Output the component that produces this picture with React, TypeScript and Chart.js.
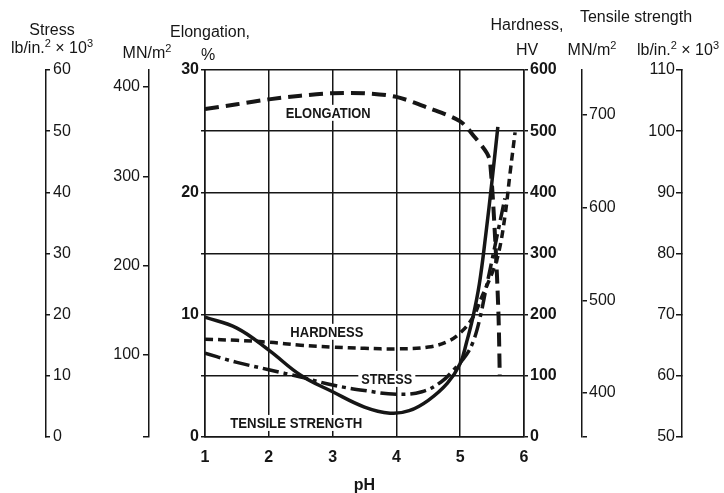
import React, { useEffect, useRef } from 'react';
import { Chart, registerables } from 'chart.js';

Chart.register(...registerables);

const FONT = '"Liberation Sans", Arial, Helvetica, sans-serif';
const INK = '#161616';

// ---- Data ----
// Elongation, %
const elongationPH = [1.0, 1.5, 2.0, 2.5, 3.0, 3.5, 4.0, 4.5, 5.0, 5.23, 5.42, 5.47, 5.55, 5.6, 5.62];
const elongationValues = [26.8, 27.2, 27.6, 27.9, 28.1, 28.1, 27.8, 26.9, 25.8, 24.5, 23.2, 22.4, 16, 10, 5];

// Hardness, HV
const hardnessPH = [1.0, 1.5, 2.0, 2.5, 3.0, 3.5, 4.0, 4.5, 4.8, 5.0, 5.2, 5.35, 5.5, 5.6, 5.7, 5.78, 5.86];
const hardnessValues = [160, 158, 155, 150, 147, 145, 144, 147, 156, 170, 196, 232, 268, 300, 360, 430, 498];

// Stress, lb/in.^2 x 10^3
const stressPH = [1.0, 1.5, 2.0, 2.5, 3.0, 3.5, 4.0, 4.4, 4.7, 4.9, 5.1, 5.2, 5.3, 5.4, 5.5, 5.6, 5.7];
const stressValues = [13.7, 12.2, 11.0, 9.8, 8.5, 7.6, 7.0, 7.4, 9.0, 11.0, 13.5, 15.5, 19, 24, 29, 34, 39];

// Tensile strength, lb/in.^2 x 10^3
const tensilePH = [1.0, 1.5, 2.0, 2.5, 3.0, 3.5, 3.9, 4.2, 4.5, 4.8, 5.0, 5.1, 5.2, 5.3, 5.4, 5.5, 5.59];
const tensileValues = [69.6, 67.8, 64.2, 60.1, 57.4, 54.9, 53.9, 54.3, 56.0, 58.8, 62.0, 65.5, 69.6, 75, 83, 92, 100.7];

// ---- Axes / ticks ----
const phTicks = [1, 2, 3, 4, 5, 6];
const elongationTicks = [0, 5, 10, 15, 20, 25, 30];
const elongationLabels = [0, 10, 20, 30];
const stressMNRange = [8, 419];
const stressMNTicks = [100, 200, 300, 400];
const stressKsiTicks = [0, 10, 20, 30, 40, 50, 60];
const hardnessTicks = [0, 100, 200, 300, 400, 500, 600];
const tensileMNRange = [352.5, 748.5];
const tensileMNTicks = [400, 500, 600, 700];
const tensileKsiTicks = [50, 60, 70, 80, 90, 100, 110];

// Curve labels (pH, HV position)
const curveLabels = [
  { text: 'ELONGATION', ph: 2.93, hv: 530, w: 85 },
  { text: 'HARDNESS', ph: 2.91, hv: 172, w: 73 },
  { text: 'STRESS', ph: 3.85, hv: 95, w: 51 },
  { text: 'TENSILE STRENGTH', ph: 2.43, hv: 23, w: 132 },
];

type Part = [string, number];
const axisTitles: { parts: Part[]; cx: number; y: number }[] = [
  { parts: [['Stress', 0]], cx: 52, y: 35 },
  { parts: [['lb/in.', 0], ['2', 1], [' \u00d7 10', 0], ['3', 1]], cx: 52, y: 53 },
  { parts: [['MN/m', 0], ['2', 1]], cx: 147, y: 58 },
  { parts: [['Elongation,', 0]], cx: 210, y: 37 },
  { parts: [['%', 0]], cx: 208, y: 60 },
  { parts: [['Hardness,', 0]], cx: 527, y: 30 },
  { parts: [['HV', 0]], cx: 527, y: 55 },
  { parts: [['Tensile strength', 0]], cx: 636, y: 22 },
  { parts: [['MN/m', 0], ['2', 1]], cx: 592, y: 55 },
  { parts: [['lb/in.', 0], ['2', 1], [' \u00d7 10', 0], ['3', 1]], cx: 678, y: 55 },
];

const toPoints = (xs: number[], ys: number[]) => xs.map((x, i) => ({ x, y: ys[i] }));
const fixedTicks = (values: number[]) => (scale: any) => {
  scale.ticks = values.map((v) => ({ value: v }));
};
const setWidth = (w: number) => (scale: any) => {
  scale.width = w;
};

const titlesPlugin = {
  id: 'titlesPlugin',
  afterDraw(chart: any) {
    const ctx = chart.ctx;
    ctx.save();
    ctx.fillStyle = INK;
    ctx.textBaseline = 'alphabetic';
    ctx.textAlign = 'left';
    for (const t of axisTitles) {
      let total = 0;
      const widths: number[] = [];
      for (const [s, sup] of t.parts) {
        ctx.font = sup ? `11px ${FONT}` : `16px ${FONT}`;
        const w = ctx.measureText(s).width;
        widths.push(w);
        total += w;
      }
      let x = t.cx - total / 2;
      t.parts.forEach(([s, sup], i) => {
        ctx.font = sup ? `11px ${FONT}` : `16px ${FONT}`;
        ctx.fillText(s, x, sup ? t.y - 6 : t.y);
        x += widths[i];
      });
    }
    ctx.restore();
  },
  afterDatasetsDraw(chart: any) {
    const ctx = chart.ctx;
    const xs = chart.scales.x;
    const ys = chart.scales.yHV;
    ctx.save();
    for (const a of curveLabels) {
      const cx = xs.getPixelForValue(a.ph);
      const cy = ys.getPixelForValue(a.hv);
      ctx.font = `bold 15px ${FONT}`;
      const w0 = ctx.measureText(a.text).width;
      ctx.fillStyle = '#ffffff';
      ctx.fillRect(cx - a.w / 2 - 3, cy - 8, a.w + 6, 16);
      ctx.save();
      ctx.translate(cx, cy + 5.4);
      ctx.scale(a.w / w0, 1);
      ctx.fillStyle = INK;
      ctx.textAlign = 'center';
      ctx.textBaseline = 'alphabetic';
      ctx.fillText(a.text, 0, 0);
      ctx.restore();
    }
    ctx.restore();
  },
};

const tickFont = { family: FONT, size: 16 };
const boldTickFont = { family: FONT, size: 16, weight: 'bold' as const };
const gridBase = { color: INK, lineWidth: 1.5 };
const borderBase = { color: INK, width: 1.5 };

export default function App() {
  const ref = useRef<HTMLCanvasElement | null>(null);

  useEffect(() => {
    if (!ref.current) return;
    const chart = new Chart(ref.current, {
      type: 'line',
      data: {
        datasets: [
          {
            label: 'Elongation',
            data: toPoints(elongationPH, elongationValues),
            yAxisID: 'yElong',
            borderColor: INK,
            borderWidth: 4,
            borderDash: [14, 7],
            tension: 0.3,
          },
          {
            label: 'Hardness',
            data: toPoints(hardnessPH, hardnessValues),
            yAxisID: 'yHV',
            borderColor: INK,
            borderWidth: 3.5,
            borderDash: [8, 5],
            tension: 0.4,
          },
          {
            label: 'Stress',
            data: toPoints(stressPH, stressValues),
            yAxisID: 'yStressKsi',
            borderColor: INK,
            borderWidth: 3.5,
            borderDash: [16, 5, 4, 5],
            tension: 0.4,
          },
          {
            label: 'Tensile strength',
            data: toPoints(tensilePH, tensileValues),
            yAxisID: 'yTensKsi',
            borderColor: INK,
            borderWidth: 3.5,
            tension: 0.4,
          },
        ],
      },
      options: {
        animation: false,
        responsive: false,
        devicePixelRatio: 1,
        layout: { padding: { top: 70, left: 0, right: 0, bottom: 0 } },
        plugins: { legend: { display: false }, tooltip: { enabled: false } },
        elements: { point: { radius: 0 }, line: { fill: false, borderCapStyle: 'butt' } },
        scales: {
          x: {
            type: 'linear',
            position: 'bottom',
            min: 1,
            max: 6,
            afterBuildTicks: fixedTicks(phTicks),
            ticks: { font: boldTickFont, color: INK, padding: 11 },
            grid: { ...gridBase, drawTicks: false },
            border: borderBase,
            title: {
              display: true,
              text: 'pH',
              color: INK,
              font: { family: FONT, size: 16, weight: 'bold', lineHeight: 1 },
              padding: { top: 0, bottom: -1 },
            },
            afterFit: (s: any) => {
              s.height = 56;
            },
          },
          yElong: {
            type: 'linear',
            position: 'left',
            weight: 0,
            min: 0,
            max: 30,
            afterBuildTicks: fixedTicks(elongationTicks),
            ticks: {
              font: boldTickFont,
              color: INK,
              padding: 2,
              callback: (v: any) => (elongationLabels.includes(v) ? String(v) : ''),
            },
            grid: { ...gridBase, drawOnChartArea: false, tickLength: 4 },
            border: borderBase,
            afterFit: setWidth(56),
          },
          yStressMN: {
            type: 'linear',
            position: 'left',
            weight: 1,
            min: stressMNRange[0],
            max: stressMNRange[1],
            afterBuildTicks: fixedTicks([stressMNRange[0], ...stressMNTicks]),
            ticks: {
              font: tickFont,
              color: INK,
              padding: 3,
              callback: (v: any) => (stressMNTicks.includes(v) ? String(v) : ''),
            },
            grid: { ...gridBase, drawOnChartArea: false, tickLength: 6 },
            border: borderBase,
            afterFit: setWidth(103),
          },
          yStressKsi: {
            type: 'linear',
            position: 'left',
            weight: 2,
            min: 0,
            max: 60,
            afterBuildTicks: fixedTicks(stressKsiTicks),
            ticks: { font: tickFont, color: INK, padding: 7, mirror: true },
            grid: { ...gridBase, drawOnChartArea: false, tickLength: -4 },
            border: borderBase,
            afterFit: setWidth(46),
          },
          yHV: {
            type: 'linear',
            position: 'right',
            weight: 0,
            min: 0,
            max: 600,
            afterBuildTicks: fixedTicks(hardnessTicks),
            ticks: { font: boldTickFont, color: INK, padding: 2 },
            grid: { ...gridBase, drawOnChartArea: true, tickLength: 4 },
            border: borderBase,
            afterFit: setWidth(58),
          },
          yTensMN: {
            type: 'linear',
            position: 'right',
            weight: 1,
            min: tensileMNRange[0],
            max: tensileMNRange[1],
            afterBuildTicks: fixedTicks([tensileMNRange[0], ...tensileMNTicks]),
            ticks: {
              font: tickFont,
              color: INK,
              padding: 2,
              callback: (v: any) => (tensileMNTicks.includes(v) ? String(v) : ''),
            },
            grid: { ...gridBase, drawOnChartArea: false, tickLength: 5 },
            border: borderBase,
            afterFit: setWidth(100),
          },
          yTensKsi: {
            type: 'linear',
            position: 'right',
            weight: 2,
            min: 50,
            max: 110,
            afterBuildTicks: fixedTicks(tensileKsiTicks),
            ticks: { font: tickFont, color: INK, padding: -7, mirror: true },
            grid: { ...gridBase, drawOnChartArea: false, tickLength: -6 },
            border: borderBase,
            afterFit: setWidth(42),
          },
        },
      } as any,
      plugins: [titlesPlugin],
    });
    return () => chart.destroy();
  }, []);

  return (
    <div style={{ position: 'absolute', left: 0, top: 0, width: 724, height: 493, background: '#fff' }}>
      <canvas ref={ref} width={724} height={493} style={{ display: 'block' }} />
    </div>
  );
}
